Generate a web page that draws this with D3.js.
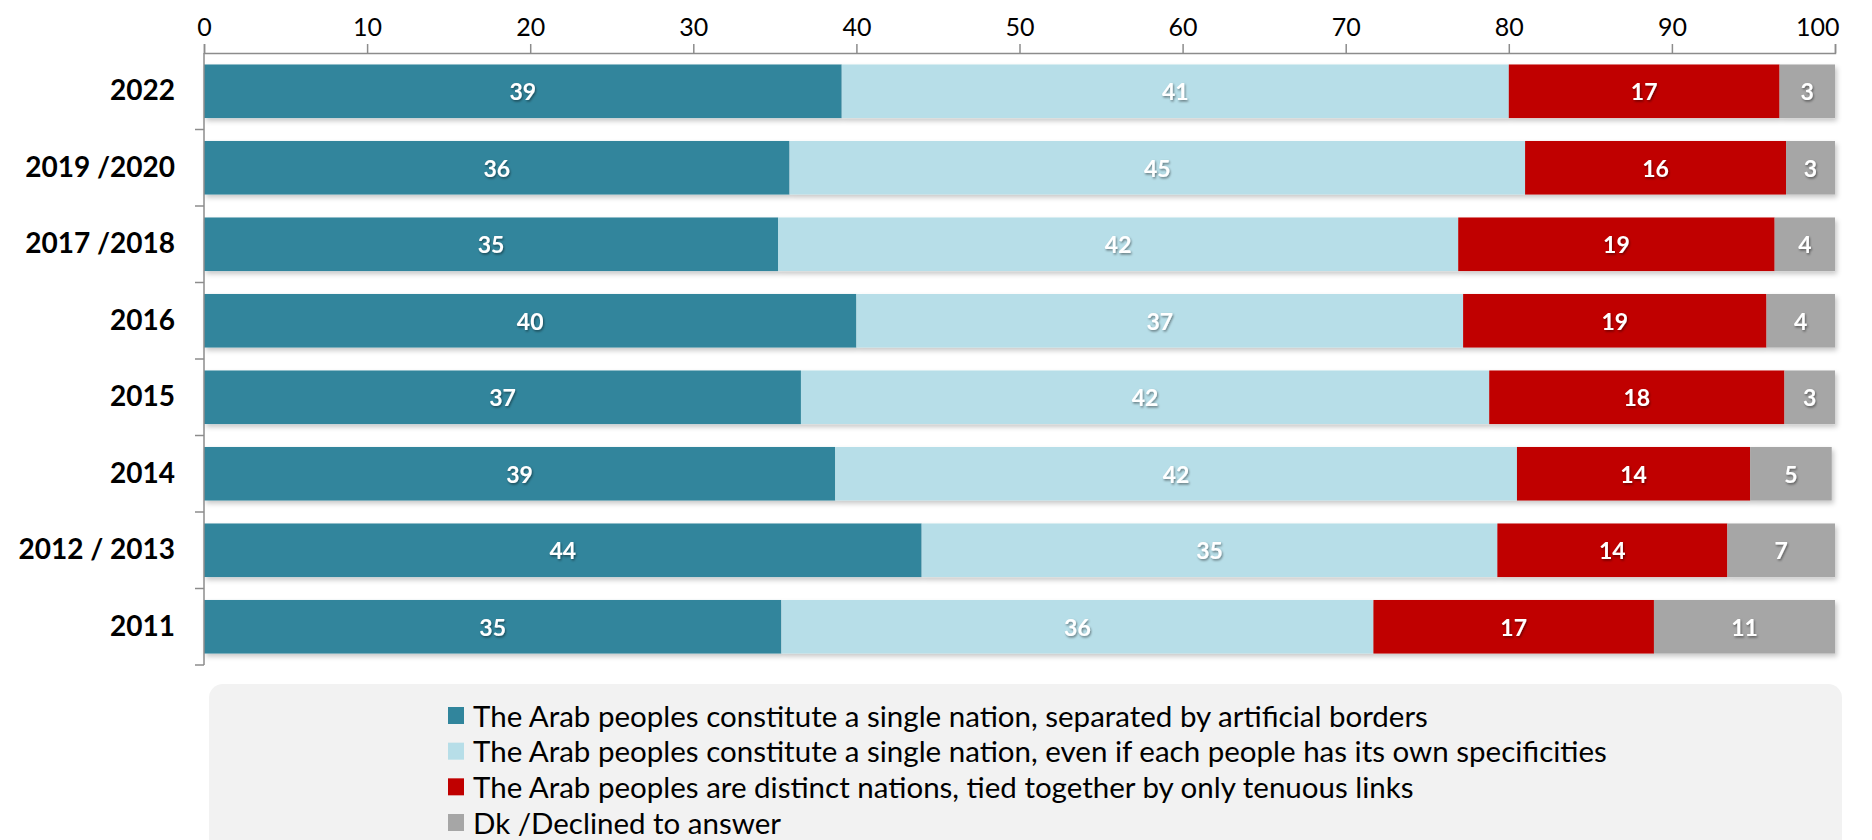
<!DOCTYPE html>
<html>
<head>
<meta charset="utf-8">
<script src="https://cdn.jsdelivr.net/npm/d3@7"></script>
<style>
  html, body { margin: 0; padding: 0; background: #ffffff; }
  svg { display: block; font-family: Lato, "Open Sans", sans-serif; }
</style>
</head>
<body>
<svg id="chart" width="1872" height="840"></svg>
<script>
// ---- data ----
const categories = ["2022", "2019 /2020", "2017 /2018", "2016", "2015", "2014", "2012 / 2013", "2011"];
const seriesNames = [
  "The Arab peoples constitute a single nation, separated by artificial borders",
  "The Arab peoples constitute a single nation, even if each people has its own specificities",
  "The Arab peoples are distinct nations, tied together by only tenuous links",
  "Dk /Declined to answer"
];
const singleNationBorders = [39.1, 35.9, 35.2, 40.0, 36.6, 38.7, 44.0, 35.4];
const singleNationSpecific = [40.9, 45.1, 41.7, 37.2, 42.2, 41.8, 35.3, 36.3];
const distinctNations     = [16.6, 16.0, 19.4, 18.6, 18.1, 14.3, 14.1, 17.2];
const declined            = [3.4, 3.0, 3.7, 4.2, 3.1, 5.0, 6.6, 11.1];
const xTicks = [0, 10, 20, 30, 40, 50, 60, 70, 80, 90, 100];
const colors = ["#31859C", "#B7DEE8", "#C00000", "#A6A6A6"];

const seriesValues = [singleNationBorders, singleNationSpecific, distinctNations, declined];

(function () {
const svg = d3.select("#chart");
const mLeft = 204, mRight = 1835, mTop = 53, mBottom = 665;

const x = d3.scaleLinear().domain([0, 100]).range([mLeft, mRight]);
const y = d3.scaleBand().domain(categories).range([mTop, mBottom]).paddingInner(0.3).paddingOuter(0.15);

// shadow filter
const defs = svg.append("defs");
const f = defs.append("filter").attr("id", "shadow").attr("x", "-5%").attr("y", "-20%").attr("width", "110%").attr("height", "150%");
f.append("feDropShadow").attr("dx", 2).attr("dy", 3).attr("stdDeviation", 2.5).attr("flood-color", "#000").attr("flood-opacity", 0.22);
const tf = defs.append("filter").attr("id", "tshadow").attr("x", "-20%").attr("y", "-20%").attr("width", "150%").attr("height", "150%");
tf.append("feDropShadow").attr("dx", 1).attr("dy", 1.5).attr("stdDeviation", 1).attr("flood-color", "#000").attr("flood-opacity", 0.45);

// stack
const rows = categories.map((c, i) => {
  const o = { cat: c };
  seriesValues.forEach((s, k) => o["s" + k] = s[i]);
  return o;
});
const keys = seriesValues.map((s, k) => "s" + k);
const stacked = d3.stack().keys(keys)(rows);

// bars
const barG = svg.append("g");
categories.forEach((c, i) => {
  const g = barG.append("g").attr("filter", "url(#shadow)");
  stacked.forEach((layer, k) => {
    const d = layer[i];
    g.append("rect")
      .attr("x", x(d[0]))
      .attr("y", y(c))
      .attr("width", x(d[1]) - x(d[0]))
      .attr("height", y.bandwidth())
      .attr("fill", colors[k]);
  });
});

// labels
const labG = svg.append("g").attr("filter", "url(#tshadow)");
stacked.forEach((layer, k) => {
  layer.forEach((d, i) => {
    labG.append("text")
      .attr("x", (x(d[0]) + x(d[1])) / 2)
      .attr("y", y(categories[i]) + y.bandwidth() / 2)
      .attr("text-anchor", "middle")
      .attr("dominant-baseline", "central")
      .attr("fill", "#ffffff")
      .attr("font-weight", "bold")
      .attr("font-size", 23)
      .text(Math.round(d[1] - d[0]));
  });
});

// top axis
const xAxis = d3.axisTop(x).tickValues(xTicks).tickSize(9).tickSizeOuter(9).tickPadding(8);
const gx = svg.append("g").attr("transform", `translate(0,${mTop})`).call(xAxis);
gx.selectAll("path, line").attr("stroke", "#8c8c8c").attr("stroke-width", 1.5);
gx.selectAll("text").attr("font-size", 25).attr("fill", "#000").attr("font-family", "Lato, sans-serif");
gx.selectAll(".tick").filter(d => d === 100).select("text")
  .attr("text-anchor", "end").attr("dx", 4);

// left axis
const yAxis = d3.axisLeft(y).tickSize(0).tickPadding(29);
const gy = svg.append("g").attr("transform", `translate(${mLeft},0)`).call(yAxis);
gy.select(".domain").remove();
gy.selectAll("text").attr("font-size", 28).attr("font-weight", "bold").attr("fill", "#000").attr("font-family", "Lato, sans-serif");
svg.append("line").attr("x1", mLeft).attr("x2", mLeft).attr("y1", mTop).attr("y2", mBottom)
  .attr("stroke", "#8c8c8c").attr("stroke-width", 1.5);
const step = y.step();
const bounds = categories.map(c => y(c) - (y.paddingInner() * step) / 2);
bounds.push(mBottom);
svg.append("g").selectAll("line").data(bounds.slice(1)).join("line")
  .attr("x1", mLeft - 9).attr("x2", mLeft).attr("y1", d => d).attr("y2", d => d)
  .attr("stroke", "#8c8c8c").attr("stroke-width", 1.5);

// legend
const lg = svg.append("g");
lg.append("rect").attr("x", 209).attr("y", 684).attr("width", 1633).attr("height", 200)
  .attr("rx", 14).attr("fill", "#F2F2F2");
const ly = d3.scalePoint().domain(seriesNames).range([715, 822]);
seriesNames.forEach((n, k) => {
  lg.append("rect").attr("x", 448).attr("y", ly(n) - 8).attr("width", 16).attr("height", 17).attr("fill", colors[k]);
  lg.append("text").attr("x", 473).attr("y", ly(n)).attr("dominant-baseline", "central")
    .attr("font-size", 29.5).attr("fill", "#000").text(n);
});
})();
</script>
</body>
</html>
